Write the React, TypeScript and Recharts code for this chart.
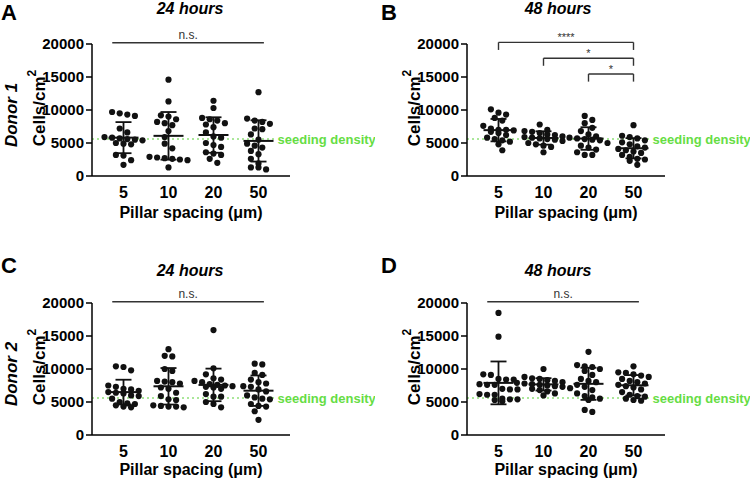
import React from 'react';
import { ScatterChart, Scatter, XAxis, YAxis, ErrorBar, ReferenceLine, Label } from 'recharts';

const spacings = ['5', '10', '20', '50'];
const yTicks = [0, 5000, 10000, 15000, 20000];
const seedingDensity = 5600;

// Donor 1, 24 hours (A)
const d1h24s5 = [9700, 9500, 9300, 9100, 7200, 6600, 5900, 5800, 5700, 5600, 5500, 5400, 5000, 4900, 4800, 3200, 3100, 2400, 1700];
const d1h24s10 = [14600, 11300, 9200, 9000, 8600, 8200, 8000, 7700, 6800, 5900, 4900, 4200, 2900, 2800, 2700, 2600, 2500, 2400, 1300];
const d1h24s20 = [11400, 10300, 8800, 8600, 8400, 8000, 7800, 7400, 6600, 6000, 5800, 5000, 4700, 4400, 3600, 3400, 3200, 2600, 2000];
const d1h24s50 = [12700, 8700, 8400, 8200, 7900, 7200, 7100, 6300, 5500, 4900, 4600, 4300, 3800, 3300, 2600, 1900, 1300, 1300, 1000];

// Donor 1, 48 hours (B)
const d1h48s5 = [10100, 9600, 9300, 8800, 8400, 7600, 7200, 7000, 7000, 6900, 6700, 6500, 6200, 5800, 5600, 5400, 5200, 4800, 3900];
const d1h48s10 = [7800, 7000, 6800, 6700, 6500, 6300, 6200, 6000, 5900, 5800, 5700, 5600, 5500, 5300, 5000, 4800, 4600, 4400, 3600];
const d1h48s20 = [9100, 8500, 8000, 7300, 6800, 6300, 6000, 5800, 5700, 5600, 5500, 5400, 5000, 4600, 4300, 4000, 3600, 3200, 3200];
const d1h48s50 = [7700, 6100, 5900, 5700, 5400, 5100, 4800, 4500, 4300, 4100, 3900, 3700, 3500, 3200, 2900, 2600, 2500, 2300, 1700];

// Donor 2, 24 hours (C)
const d2h24s5 = [10400, 10300, 9800, 7500, 7300, 7000, 6900, 6700, 6500, 6400, 6300, 6000, 5900, 5500, 5000, 4800, 4700, 4500, 4300, 4200];
const d2h24s10 = [13000, 12000, 11900, 10000, 9700, 8200, 8100, 8000, 7800, 7200, 7000, 6400, 5900, 5400, 5300, 4500, 4400, 4300, 4300, 4200];
const d2h24s20 = [15900, 10100, 9200, 8600, 8400, 8200, 8000, 7700, 7600, 7500, 7400, 7300, 7200, 7000, 6200, 5800, 5800, 5000, 4700, 4200];
const d2h24s50 = [10800, 10700, 9400, 9100, 8400, 8000, 7800, 7400, 7300, 6900, 6600, 6000, 5700, 5500, 5400, 4700, 4400, 4300, 3600, 2300];

// Donor 2, 48 hours (D)
const d2h48s5 = [18500, 14900, 9200, 9100, 8500, 8400, 8400, 7700, 7600, 7600, 7000, 6900, 6900, 6200, 6100, 6100, 5500, 5400, 5400, 5300, 5100];
const d2h48s10 = [10000, 8800, 8600, 8500, 8300, 8200, 8000, 7900, 7800, 7700, 7600, 7500, 7400, 7300, 7100, 7000, 6800, 6600, 6300, 6000];
const d2h48s20 = [12600, 10600, 10400, 10300, 10000, 9700, 9100, 8500, 8200, 8000, 7600, 7300, 6800, 6300, 5900, 5700, 5500, 5300, 3800, 3500];
const d2h48s50 = [10400, 9500, 9400, 9200, 9000, 8800, 8500, 8200, 8000, 7800, 7600, 7400, 7200, 6900, 6500, 6100, 5900, 5800, 5500, 5300, 5200];

// statistics
const compareNs = [{ from: 0, to: 3, label: 'n.s.' }];
const compareD1h48 = [
  { from: 0, to: 3, label: '****' },
  { from: 1, to: 3, label: '*' },
  { from: 2, to: 3, label: '*' },
];

const FONT = '"Liberation Sans", Arial, Helvetica, sans-serif';
const GREEN = '#66dd44';
const INK = '#111';
const W = 375;
const H = 221;
const PLOT_W = 198;
const PLOT_H = 132;
const X_PX = PLOT_W / 4.4;
const Y_PX = PLOT_H / 20000;
const COL = 7.6;

// GraphPad-style scatter: close values share a row centred on the category;
// a row is nudged half a column sideways when it would sit on the row above
function swarm(values: number[], index: number) {
  const sorted = [...values].sort((a, b) => b - a);
  const rows: number[][] = [];
  sorted.forEach((v) => {
    const row = rows[rows.length - 1];
    if (row && row[0] - v < 850) row.push(v);
    else rows.push([v]);
  });
  const placed: { x: number; y: number }[] = [];
  return rows.flatMap((row, r) => {
    const base = row.map((v, k) => ({ x: (k - (row.length - 1) / 2) * COL, y: v * Y_PX }));
    const shifts = r % 2 === 0 ? [0, COL / 2, -COL / 2] : [0, -COL / 2, COL / 2];
    const shift =
      shifts.find((s) => base.every((b) => placed.every((p) => Math.hypot(p.x - b.x - s, p.y - b.y) >= 6))) ?? 0;
    base.forEach((b) => placed.push({ x: b.x + shift, y: b.y }));
    return row.map((v, k) => ({ x: index + (base[k].x + shift) / X_PX, y: v }));
  });
}

function stats(values: number[], index: number) {
  const n = values.length;
  const mean = values.reduce((s, v) => s + v, 0) / n;
  const sd = Math.sqrt(values.reduce((s, v) => s + (v - mean) ** 2, 0) / (n - 1));
  return { x: index, y: mean, sd };
}

const Dot = (p: any) => <circle cx={p.cx} cy={p.cy} r={3.1} fill={INK} />;
const MeanLine = (p: any) => (
  <line x1={p.cx - 15} x2={p.cx + 15} y1={p.cy} y2={p.cy} stroke={INK} strokeWidth={2} />
);

const yTitle = (props: any) => {
  const { x, y, height } = props.viewBox;
  const cx = x + 39;
  const cy = y + height / 2 - 2;
  return (
    <text x={cx} y={cy} transform={`rotate(-90 ${cx} ${cy})`} textAnchor="middle" dominantBaseline="central"
      fill="#000" fontSize={17} fontWeight={700} fontFamily={FONT}>
      Cells/cm<tspan dy={-7} fontSize={12}>2</tspan>
    </text>
  );
};

const donorTitle = (donor: string) => (props: any) => {
  const { x, y, height } = props.viewBox;
  const cx = x + 11;
  const cy = y + height / 2 + 5;
  return (
    <text x={cx} y={cy} transform={`rotate(-90 ${cx} ${cy})`} textAnchor="middle" dominantBaseline="central"
      fill="#000" fontSize={17} fontWeight={700} fontStyle="italic" fontFamily={FONT}>
      {donor}
    </text>
  );
};

type Comparison = { from: number; to: number; label: string };

function Panel({ left, top, donor, groups, comparisons, bracketed, xTitleOffset = 3 }: {
  left: number; top: number; donor?: string; groups: number[][]; comparisons: Comparison[]; bracketed?: boolean; xTitleOffset?: number;
}) {
  const dots = groups.flatMap((g, i) => swarm(g, i));
  const summary = groups.map((g, i) => stats(g, i));
  const lineProps = { stroke: '#333', strokeWidth: 1.4, ifOverflow: 'visible' as const };

  return (
    <div style={{ position: 'absolute', left, top, width: W, height: H }}>
      <ScatterChart width={W} height={H} margin={{ top: 44, right: 85, bottom: 0, left: 0 }} style={{ fontFamily: FONT }}>
        <XAxis
          type="number"
          dataKey="x"
          domain={[-0.7, 3.7]}
          ticks={[0, 1, 2, 3]}
          interval={0}
          tickFormatter={(v) => spacings[v]}
          tickLine={false}
          tickMargin={5}
          axisLine={{ stroke: '#000', strokeWidth: 1.5 }}
          tick={{ fill: '#000', fontSize: 16, fontWeight: 700 }}
          height={45}
        >
          <Label value="Pillar spacing (μm)" position="insideBottom" offset={xTitleOffset} fill="#000" fontSize={16} fontWeight={700} />
        </XAxis>
        <YAxis
          type="number"
          dataKey="y"
          domain={[0, 20000]}
          ticks={yTicks}
          interval={0}
          width={92}
          tickSize={6}
          axisLine={{ stroke: '#000', strokeWidth: 1.5 }}
          tickLine={{ stroke: '#000', strokeWidth: 1.5 }}
          tick={{ fill: '#000', fontSize: 15, fontWeight: 700 }}
        >
          <Label content={yTitle} />
          {donor && <Label content={donorTitle(donor)} />}
        </YAxis>

        <ReferenceLine
          segment={[{ x: -0.7, y: seedingDensity }, { x: 3.38, y: seedingDensity }]}
          stroke="#8fdf78"
          strokeWidth={1.5}
          strokeDasharray="2 3"
          ifOverflow="visible"
          label={{ value: 'seeding density', position: 'right', offset: 2, fill: GREEN, fontSize: 13, fontWeight: 700 }}
        />

        {comparisons.map((c, k) => {
          if (!bracketed) {
            return (
              <ReferenceLine
                key={`ns${k}`}
                segment={[{ x: c.from - 0.25, y: 20200 }, { x: c.to + 0.12, y: 20200 }]}
                {...lineProps}
                label={{ value: c.label, position: 'top', offset: 4, fill: '#333', fontSize: 12 }}
              />
            );
          }
          const y = 20250 - k * 2400;
          return [
            <ReferenceLine
              key={`h${k}`}
              segment={[{ x: c.from, y }, { x: c.to, y }]}
              {...lineProps}
              label={{ value: c.label, position: 'top', offset: 1, fill: '#333', fontSize: 11 }}
            />,
            <ReferenceLine key={`l${k}`} segment={[{ x: c.from, y }, { x: c.from, y: y - 1150 }]} {...lineProps} />,
            <ReferenceLine key={`r${k}`} segment={[{ x: c.to, y }, { x: c.to, y: y - 1150 }]} {...lineProps} />,
          ];
        })}

        <Scatter data={dots} shape={Dot} isAnimationActive={false} />
        <Scatter data={summary} shape={MeanLine} isAnimationActive={false}>
          <ErrorBar dataKey="sd" direction="y" width={8} stroke={INK} strokeWidth={1.8} />
        </Scatter>
      </ScatterChart>
    </div>
  );
}

const letterStyle: React.CSSProperties = {
  position: 'absolute', fontFamily: FONT, fontWeight: 700, fontSize: 22, lineHeight: '25px', color: '#000',
};
const titleStyle: React.CSSProperties = {
  position: 'absolute', fontFamily: FONT, fontWeight: 700, fontStyle: 'italic', fontSize: 16, lineHeight: '18px',
  color: '#000', transform: 'translateX(-50%)', whiteSpace: 'nowrap',
};

export default function App() {
  return (
    <div style={{ position: 'absolute', left: 0, top: 0, width: 750, height: 478, overflow: 'hidden', background: '#fff' }}>
      <Panel left={0} top={0} donor="Donor 1" groups={[d1h24s5, d1h24s10, d1h24s20, d1h24s50]} comparisons={compareNs} />
      <Panel left={375} top={0} groups={[d1h48s5, d1h48s10, d1h48s20, d1h48s50]} comparisons={compareD1h48} bracketed />
      <Panel left={0} top={259} donor="Donor 2" groups={[d2h24s5, d2h24s10, d2h24s20, d2h24s50]} comparisons={compareNs} xTitleOffset={5} />
      <Panel left={375} top={259} groups={[d2h48s5, d2h48s10, d2h48s20, d2h48s50]} comparisons={compareNs} xTitleOffset={5} />

      <div style={{ ...letterStyle, left: 1, top: 0 }}>A</div>
      <div style={{ ...letterStyle, left: 381, top: 0 }}>B</div>
      <div style={{ ...letterStyle, left: 1, top: 253 }}>C</div>
      <div style={{ ...letterStyle, left: 381, top: 253 }}>D</div>

      <div style={{ ...titleStyle, left: 190, top: 0 }}>24 hours</div>
      <div style={{ ...titleStyle, left: 558, top: 0 }}>48 hours</div>
      <div style={{ ...titleStyle, left: 190, top: 262 }}>24 hours</div>
      <div style={{ ...titleStyle, left: 558, top: 262 }}>48 hours</div>
    </div>
  );
}
